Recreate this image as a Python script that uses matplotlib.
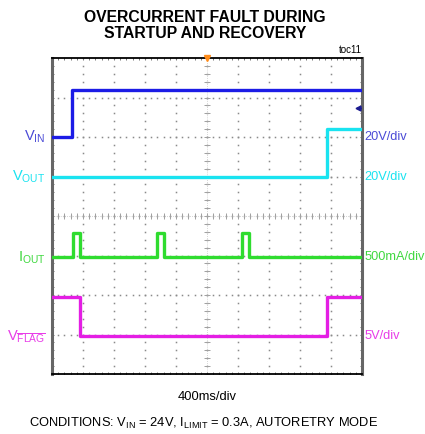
import numpy as np
import matplotlib
matplotlib.use("Agg")
from matplotlib import pyplot as plt
from matplotlib import font_manager

# pick a narrow Arial-like face if we have it
names = {f.name for f in font_manager.fontManager.ttflist}
narrow = 'Liberation Sans Narrow' if 'Liberation Sans Narrow' in names else 'Liberation Sans'
plt.rcParams['font.family'] = [narrow, 'DejaVu Sans']
plt.rcParams['mathtext.fontset'] = 'custom'
plt.rcParams['mathtext.rm'] = narrow
plt.rcParams['mathtext.it'] = narrow

# scope setup
time_per_div = 400  # ms
n_xdiv, n_ydiv = 10, 8

# traces (time in ms, values in real units), step waveforms
vin_t = [0, 254, 4000]
vin_v = [0, 24, 24]

vout_t = [0, 3548, 4000]
vout_v = [0, 24, 24]

iout_t = [0, 268, 360, 1360, 1448, 2456, 2544, 4000]
iout_a = [0, 0.31, 0, 0.31, 0, 0.31, 0, 0]

vflag_t = [0, 360, 3548, 4000]
vflag_v = [5, 0, 5, 5]

# channel: (label, scale text, trace color, units per div, zero level in div, t, v, text color)
channels = [
    (r'$\mathregular{V_{IN}}$', '20V/div', '#1c1ce6', 20, 6.0, vin_t, vin_v, '#4a4ad6'),
    (r'$\mathregular{V_{OUT}}$', '20V/div', '#19e3f0', 20, 5.0, vout_t, vout_v, '#19e3f0'),
    (r'$\mathregular{I_{OUT}}$', '500mA/div', '#2fdc2f', 0.5, 2.95, iout_t, iout_a, '#3fd83f'),
    (r'$\mathregular{V_{\overline{FLAG}}}$', '5V/div', '#e41ee4', 5, 0.95, vflag_t, vflag_v, '#e83ce8'),
]

fig = plt.figure(figsize=(4.25, 4.34), dpi=100)
ax = fig.add_axes([0.1224, 0.1382, 0.7294, 0.7281])
ax.set_xlim(0, n_xdiv)
ax.set_ylim(0, n_ydiv)
ax.set_xticks([])
ax.set_yticks([])

# graticule: dotted lines
gcol = '#8a8a8a'
xs = np.arange(0, n_xdiv + 0.01, 0.2)
ys = np.arange(0, n_ydiv + 0.01, 0.2)
for i in range(1, n_xdiv):
    ax.plot(np.full_like(ys, i), ys, ls='none', marker='s', ms=1.1, mew=0, color=gcol, zorder=1)
for j in range(1, n_ydiv):
    ax.plot(xs, np.full_like(xs, j), ls='none', marker='s', ms=1.1, mew=0, color=gcol, zorder=1)
# center cross with small ticks
ax.plot(xs, np.full_like(xs, n_ydiv / 2), ls='none', marker='|', ms=4, mew=0.7, color='#a0a0a0', zorder=1)
ax.plot(np.full_like(ys, n_xdiv / 2), ys, ls='none', marker='_', ms=4, mew=0.7, color='#a0a0a0', zorder=1)
ax.axhline(n_ydiv / 2, color='#b0b0b0', lw=0.5, ls=(0, (1, 2)), zorder=1)
ax.axvline(n_xdiv / 2, color='#b0b0b0', lw=0.5, ls=(0, (1, 2)), zorder=1)
# edge ticks
for y0 in (0, n_ydiv):
    ax.plot(xs, np.full_like(xs, y0), ls='none', marker='|', ms=3, mew=0.7, color='#777777', zorder=1)
for x0 in (0, n_xdiv):
    ax.plot(np.full_like(ys, x0), ys, ls='none', marker='_', ms=3, mew=0.7, color='#777777', zorder=1)

# traces
for label, scale, col, per_div, zero, t, v, tcol in channels:
    x = np.array(t) / time_per_div
    y = zero + np.array(v) / per_div
    ax.plot(x, y, drawstyle='steps-post', color=col, lw=2.4, zorder=3)
    ax.text(-0.022, zero / n_ydiv, label, transform=ax.transAxes, ha='right', va='center',
            color=tcol, fontsize=10.5)
    ax.text(1.008, zero / n_ydiv, scale, transform=ax.transAxes, ha='left', va='center',
            color=tcol, fontsize=9.2)

# trigger marker and channel marker
ax.plot([n_xdiv / 2], [n_ydiv], marker='v', ms=4, color='#ff8c1a', clip_on=False, zorder=5)
ax.plot([9.86], [6.73], marker='<', ms=3.5, color='#1c1c90', zorder=5)
ax.plot([9.86, 9.98], [6.73, 6.73], color='#1c1c90', lw=1, zorder=5)

for side in ('left', 'right'):
    ax.spines[side].set_color('#666666')
    ax.spines[side].set_linewidth(2.2)
for side in ('top', 'bottom'):
    ax.spines[side].set_color('black')
    ax.spines[side].set_linewidth(1.3)

fig.text(0.483, 0.978, 'OVERCURRENT FAULT DURING\nSTARTUP AND RECOVERY', ha='center', va='top',
         fontsize=11.3, fontweight='bold', linespacing=1.15)
fig.text(0.852, 0.874, 'toc11', ha='right', va='bottom', fontsize=7)
fig.text(0.487, 0.085, '400ms/div', ha='center', va='center', fontsize=9.3)
fig.text(0.48, 0.025, r'CONDITIONS: $\mathregular{V_{IN}}$ = 24V, $\mathregular{I_{LIMIT}}$ = 0.3A, AUTORETRY MODE',
         ha='center', va='center', fontsize=9.3)

fig.savefig('out.png', dpi=100)
